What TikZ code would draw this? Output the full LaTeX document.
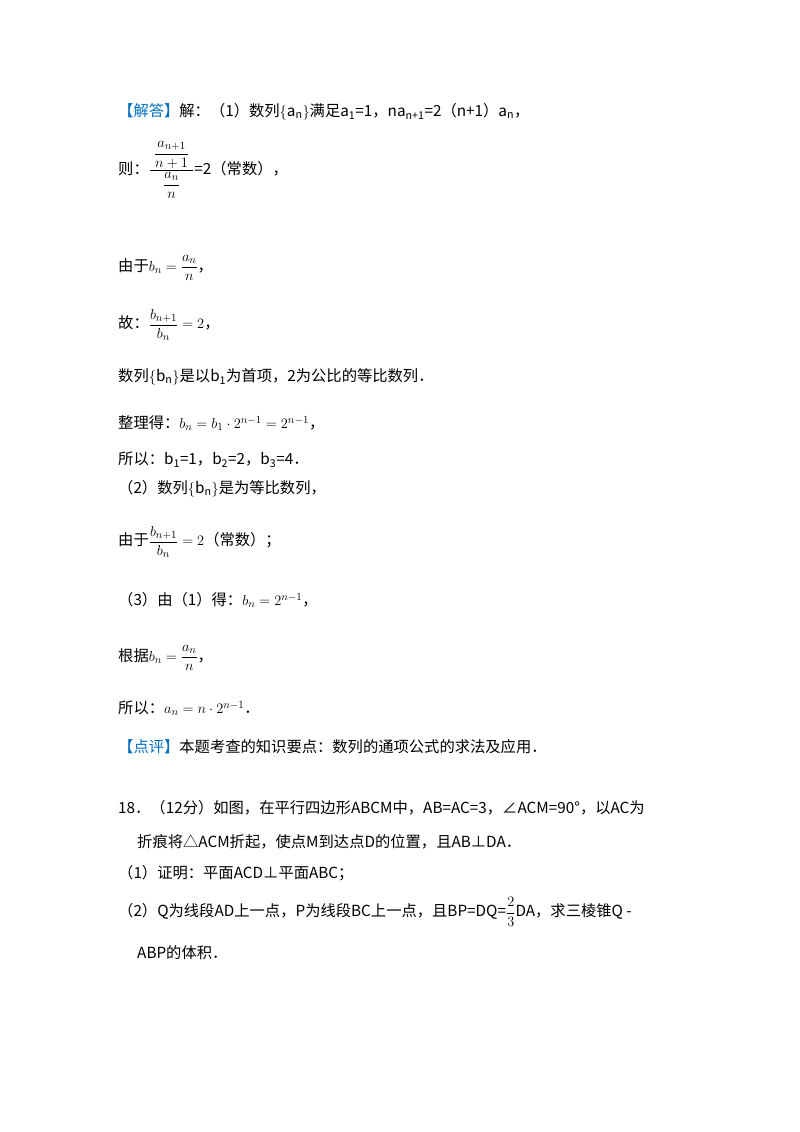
\documentclass[tikz,border=0pt]{standalone}
\usepackage{amsmath}
\usepackage{fontspec}
\setmainfont{Noto Sans CJK SC}
\definecolor{hb}{RGB}{0,112,192}
\begin{document}
\begin{tikzpicture}[x=1pt,y=-1pt,t/.style={anchor=west,inner sep=0pt,font=\fontsize{15.3}{17}\selectfont}]
\useasboundingbox[fill=white] (0,0) rectangle (800,1132);
\node[t] (l1) at (118,112) {\textcolor{hb}{【解答】}解：（1）数列$\{$a\textsubscript{n}$\}$满足a\textsubscript{1}=1，na\textsubscript{n+1}=2（n+1）a\textsubscript{n}，};
\node[t] (l2) at (118,170) {则：$\dfrac{\;\dfrac{a_{n+1}}{n+1}\rule[-6pt]{0pt}{6pt}\;}{\rule{0pt}{16pt}\dfrac{a_n}{n}}$=2（常数），};
\node[t] (l3) at (118,268) {由于$b_n=\dfrac{a_n}{n}$，};
\node[t] (l4) at (118,325) {故：$\dfrac{b_{n+1}}{b_n}=2$，};
\node[t] (l5) at (118,377) {数列$\{$b\textsubscript{n}$\}$是以b\textsubscript{1}为首项，2为公比的等比数列．};
\node[t] (l6) at (118,423) {整理得：$b_n=b_1\cdot2^{n-1}=2^{n-1}$，};
\node[t] (l7) at (118,460) {所以：b\textsubscript{1}=1，b\textsubscript{2}=2，b\textsubscript{3}=4．};
\node[t] (l8) at (118,489) {（2）数列$\{$b\textsubscript{n}$\}$是为等比数列，};
\node[t] (l9) at (118,542) {由于$\dfrac{b_{n+1}}{b_n}=2$（常数）；};
\node[t] (l10) at (118,600) {（3）由（1）得：$b_n=2^{n-1}$，};
\node[t] (l11) at (118,658) {根据$b_n=\dfrac{a_n}{n}$，};
\node[t] (l12) at (118,708) {所以：$a_n=n\cdot2^{n-1}$．};
\node[t] (l13) at (118,747) {\textcolor{hb}{【点评】}本题考查的知识要点：数列的通项公式的求法及应用．};
\node[t] (l14) at (118,808) {18．（12分）如图，在平行四边形ABCM中，AB=AC=3，∠ACM=90°，以AC为};
\node[t] (l15) at (137,842) {折痕将△ACM折起，使点M到达点D的位置，且AB⊥DA．};
\node[t] (l16) at (118,873) {（1）证明：平面ACD⊥平面ABC；};
\node[t] (l17) at (118,912) {（2）Q为线段AD上一点，P为线段BC上一点，且BP=DQ=$\dfrac{2}{3}$DA，求三棱锥Q -};
\node[t] (l18) at (137,953) {ABP的体积．};
\end{tikzpicture}
\end{document}
